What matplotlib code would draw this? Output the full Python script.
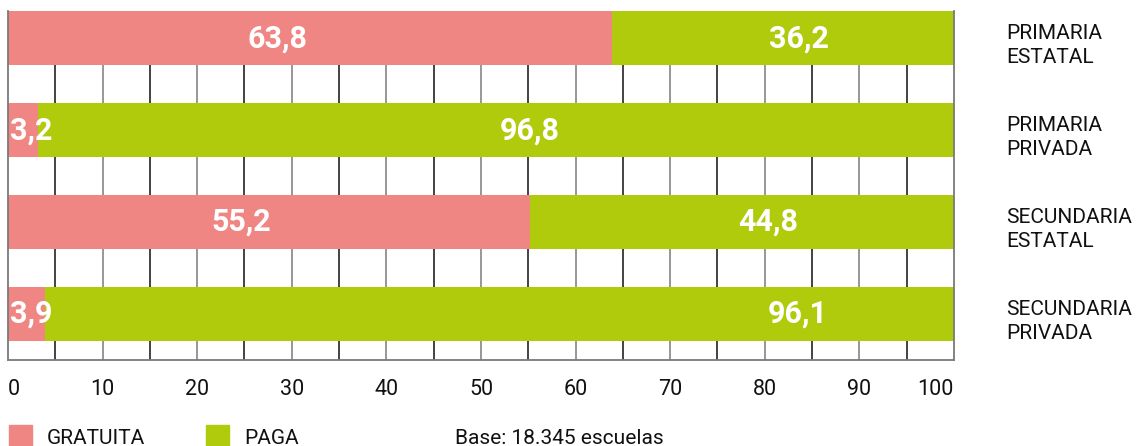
import matplotlib.pyplot as plt
from matplotlib.patches import Rectangle
from matplotlib.transforms import blended_transform_factory

plt.rcParams['font.family'] = ['Roboto', 'DejaVu Sans']

categories = ['PRIMARIA\nESTATAL', 'PRIMARIA\nPRIVADA', 'SECUNDARIA\nESTATAL', 'SECUNDARIA\nPRIVADA']
gratuita = [63.8, 3.2, 55.2, 3.9]
paga = [36.2, 96.8, 44.8, 96.1]
series_names = ['GRATUITA', 'PAGA']
xticks = [0, 10, 20, 30, 40, 50, 60, 70, 80, 90, 100]
note = 'Base: 18.345 escuelas'

# where the white value labels sit along each bar
label_x_gratuita = [28.5, 0.2, 24.7, 0.2]
label_x_paga = [83.6, 55.2, 80.4, 83.5]

pink = '#F08684'
green = '#B0CA0C'

fig = plt.figure(figsize=(11.38, 4.46), dpi=100)
ax = fig.add_axes([8 / 1138, 86 / 446, 946 / 1138, 349 / 446])

y = list(range(len(categories)))
bar_h = 0.59

# vertical grid every 5 points, alternating tones
for gx in range(5, 100, 5):
    ax.axvline(gx, color='#7a7a7a' if gx % 10 == 0 else '#111111', lw=1.1, zorder=0)

ax.barh(y, gratuita, height=bar_h, color=pink, zorder=2)
ax.barh(y, paga, left=gratuita, height=bar_h, color=green, zorder=2)

val_font = dict(color='white', fontsize=22, fontweight='bold', va='center', zorder=3)
for i in y:
    g_ha = 'left' if gratuita[i] < 10 else 'center'
    ax.text(label_x_gratuita[i], i, f'{gratuita[i]:.1f}'.replace('.', ','), ha=g_ha, **val_font)
    ax.text(label_x_paga[i], i, f'{paga[i]:.1f}'.replace('.', ','), ha='center', **val_font)

ax.set_xlim(0, 100)
ax.set_ylim(3.5, -bar_h / 2)

ax.spines['top'].set_visible(False)
for side in ['left', 'right', 'bottom']:
    ax.spines[side].set_color('#7a7a7a')
    ax.spines[side].set_linewidth(1.3)

ax.set_yticks([])
ax.set_xticks(xticks)
ax.set_xticklabels([str(t) for t in xticks], fontsize=15.5, color='#111111')
ax.tick_params(axis='x', length=0, pad=14)
labels = ax.get_xticklabels()
labels[0].set_ha('left')
labels[-1].set_ha('right')

trans = blended_transform_factory(ax.transAxes, ax.transData)
for i, cat in enumerate(categories):
    ax.text(998 / 946, i + 0.08, cat, transform=trans, fontsize=15, color='#111111',
            ha='left', va='center', linespacing=1.3)

# legend along the bottom edge
fig.patches.append(Rectangle((9 / 1138, 0), 23 / 1138, 21 / 446, transform=fig.transFigure,
                             color=pink))
fig.patches.append(Rectangle((206 / 1138, 0), 23 / 1138, 21 / 446, transform=fig.transFigure,
                             color=green))
fig.text(47 / 1138, 2 / 446, series_names[0], fontsize=15, color='#111111', va='baseline')
fig.text(244 / 1138, 2 / 446, series_names[1], fontsize=15, color='#111111', va='baseline')
fig.text(455 / 1138, 2 / 446, note, fontsize=15, color='#111111', va='baseline')

fig.savefig('out.png', dpi=100)
